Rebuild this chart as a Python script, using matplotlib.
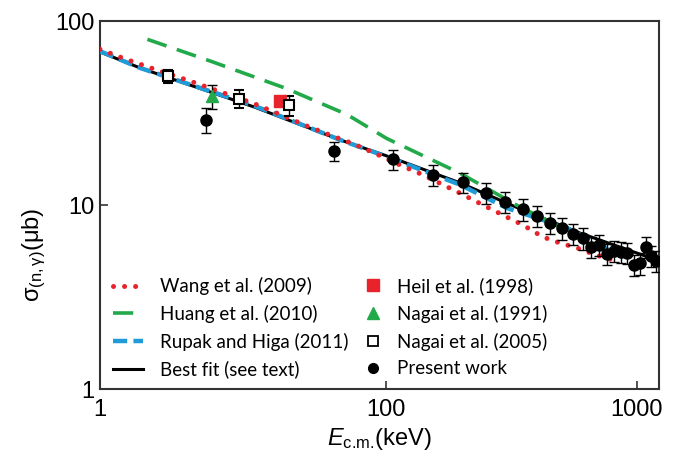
import matplotlib
matplotlib.use("Agg")
import matplotlib.pyplot as plt
from matplotlib.lines import Line2D

plt.rcParams['font.family'] = ['Liberation Sans', 'DejaVu Sans']
plt.rcParams['mathtext.fontset'] = 'custom'
plt.rcParams['mathtext.rm'] = 'Liberation Sans'
plt.rcParams['mathtext.it'] = 'Liberation Sans:italic'
plt.rcParams['mathtext.sf'] = 'Liberation Sans'

# ---------------- data (E_cm in keV, sigma in microbarn) ----------------
wang_E = [7.25, 8.98, 12.2, 16.1, 21.8, 29.6, 39.0, 48.3, 59.8, 74.1, 91.8, 113.7, 140, 197, 243.5, 303, 351, 422, 493, 577, 700, 855]
wang_s = [70.2, 62.7, 54.2, 47.8, 41.3, 35.7, 30.5, 26.9, 24.0, 21.5, 18.9, 16.5, 14.6, 11.6, 10.0, 8.6, 7.79, 6.70, 6.22, 5.84, 5.3, 4.9]

huang_E = [11.2, 20, 40, 70, 100.6, 197, 342, 526, 732]
huang_s = [79.5, 60.5, 43.0, 31.0, 23.0, 14.9, 9.75, 7.31, 5.69]

rupak_E = [7.25, 10.5, 30, 65.6, 104, 197, 303, 526, 880]
rupak_s = [68.5, 55.5, 34.5, 22.6, 18.0, 12.9, 9.63, 7.50, 5.2]

fit_E = [7.25, 10.5, 30, 65.6, 104, 197, 351, 593, 1200]
fit_s = [67.9, 55.5, 34.0, 22.6, 18.2, 13.2, 9.39, 7.04, 5.02]

heil_E = [37.8]
heil_s = [36.7]

nagai91_E = [20.3]
nagai91_s = [39.1]
nagai91_err = [6.0]

nagai05_E = [13.5, 26.0, 41.1]
nagai05_s = [50.2, 37.8, 34.8]
nagai05_err = [4.0, 4.2, 4.5]

present_E = [19.2, 62.2, 107, 154, 202, 250, 298, 350, 401, 450, 501, 554, 608, 656,
             708, 757, 812, 861, 915, 973, 1028, 1083, 1134, 1191]
present_s = [29.0, 19.7, 17.7, 14.6, 13.3, 11.6, 10.4, 9.48, 8.74, 8.01, 7.47, 6.96, 6.59, 5.94,
             6.06, 5.42, 5.62, 5.58, 5.51, 4.72, 4.82, 5.94, 5.28, 4.98]
present_err = [4.5, 2.4, 2.2, 1.9, 1.7, 1.5, 1.35, 1.25, 1.15, 1.05, 1.0, 0.92, 0.87, 0.79,
               0.8, 0.72, 0.75, 0.74, 0.73, 0.63, 0.64, 0.79, 0.7, 0.66]

x_ticks = [7.25, 100, 1000]
x_ticklabels = ['1', '100', '1000']
y_ticks = [1, 10, 100]
y_ticklabels = ['1', '10', '100']

# ---------------- colours ----------------
RED = '#E8232B'
GREEN = '#22AA4A'
BLUE = '#1F9BD7'

fig = plt.figure(figsize=(6.88, 4.58), dpi=100)
ax = fig.add_axes([100/688, 1-389/458, 559/688, 368/458])
ax.set_xscale('log')
ax.set_yscale('log')
ax.set_xlim(7.25, 1224)
ax.set_ylim(1, 100)

ax.plot(fit_E, fit_s, color='black', lw=2.2, zorder=2)
ax.plot(rupak_E, rupak_s, color=BLUE, lw=3.2, linestyle=(0, (3.2, 1.4)), zorder=3)
ax.plot(wang_E, wang_s, color=RED, lw=3.6, linestyle=(0, (0.01, 2.2)),
        dash_capstyle='round', zorder=4)
ax.plot(huang_E, huang_s, color=GREEN, lw=2.6, linestyle=(0, (5.6, 3.0)), zorder=4)

ax.errorbar(present_E, present_s, yerr=present_err, fmt='o', color='black', ms=8,
            ecolor='black', elinewidth=1.0, capsize=3.5, capthick=1.0, zorder=6)
ax.errorbar(nagai05_E, nagai05_s, yerr=nagai05_err, fmt='s', mfc='white', mec='black',
            mew=1.5, ms=7.5, ecolor='black', elinewidth=1.0, capsize=3.5, capthick=1.0, zorder=6)
ax.errorbar(nagai91_E, nagai91_s, yerr=nagai91_err, fmt='^', color=GREEN, ms=9,
            ecolor='black', elinewidth=1.0, capsize=3.5, capthick=1.0, zorder=6)
ax.plot(heil_E, heil_s, 's', color=RED, ms=8, zorder=6)

ax.set_xticks(x_ticks)
ax.set_xticklabels(x_ticklabels)
ax.set_yticks(y_ticks)
ax.set_yticklabels(y_ticklabels)
ax.minorticks_off()
ax.tick_params(axis='both', direction='in', length=6, width=1.2, labelsize=17,
               color='#333333')
ax.tick_params(axis='x', pad=7)
ax.tick_params(axis='y', pad=4)
for s in ax.spines.values():
    s.set_linewidth(1.5)
    s.set_color('#333333')

ax.set_xlabel(r'$E_{\text{c.m.}}$(keV)', fontsize=17, labelpad=4)
ax.set_ylabel(r'σ$_{\mathrm{(n,γ)}}$(μb)', fontsize=17, va='center')
ax.yaxis.set_label_coords(-0.118, 0.364)

leg_font = {'family': 'Lato', 'size': 13.5}
h1 = [Line2D([], [], color=RED, lw=3.6, linestyle=(0, (0.01, 2.2)), dash_capstyle='round'),
      Line2D([], [], color=GREEN, lw=2.6, linestyle=(0, (5.6, 3.0))),
      Line2D([], [], color=BLUE, lw=3.2, linestyle=(0, (3.2, 1.4))),
      Line2D([], [], color='black', lw=2.2)]
l1 = ['Wang et al. (2009)', 'Huang et al. (2010)', 'Rupak and Higa (2011)', 'Best fit (see text)']
leg1 = ax.legend(h1, l1, loc='upper left', bbox_to_anchor=(13/559, (389-277)/368),
                 frameon=False, prop=leg_font, handlelength=1.6, handletextpad=0.9,
                 labelspacing=0.52, borderpad=0, borderaxespad=0)
ax.add_artist(leg1)
h2 = [Line2D([], [], marker='s', color=RED, ls='none', ms=8),
      Line2D([], [], marker='^', color=GREEN, ls='none', ms=9),
      Line2D([], [], marker='s', mfc='white', mec='black', mew=1.3, ls='none', ms=7),
      Line2D([], [], marker='o', color='black', ls='none', ms=7)]
l2 = ['Heil et al. (1998)', 'Nagai et al. (1991)', 'Nagai et al. (2005)', 'Present work']
ax.legend(h2, l2, loc='upper left', bbox_to_anchor=(265/559, (389-277)/368),
          frameon=False, prop=leg_font, handlelength=0.8, handletextpad=0.9,
          labelspacing=0.52, borderpad=0, borderaxespad=0)

fig.savefig('out.png', dpi=100)
